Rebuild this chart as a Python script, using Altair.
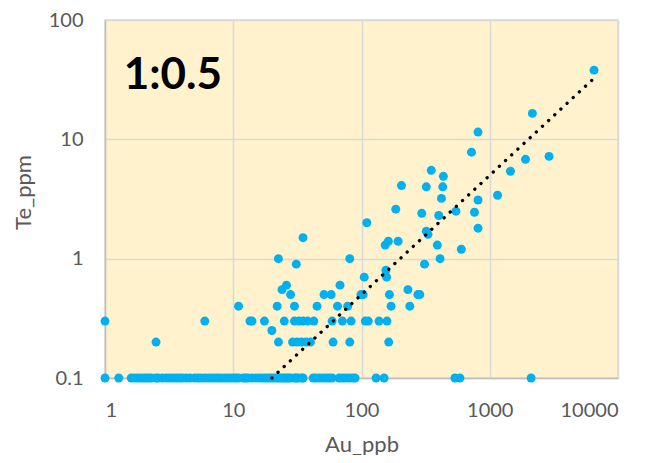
import altair as alt
import pandas as pd

# Samples with Te at the 0.1 ppm detection floor (Au ppb values)
floor_au = [1, 1.28, 1.6, 1.7, 1.8, 1.9, 2.0, 2.1, 2.2, 2.3, 2.5, 2.6, 2.8, 3.0, 3.2,
            3.4, 3.6, 3.8, 4.0, 4.3, 4.6, 5.0, 5.3, 5.6, 6.0, 6.4, 6.8, 7.2, 7.6, 8.0,
            8.5, 9.0, 9.5, 10, 10.5, 11, 12, 12.5, 13, 14, 15, 16, 17, 18, 19, 20, 21,
            22, 23, 24, 25, 26, 27, 28, 30, 31, 32, 34, 35,
            42, 44, 47, 50, 53, 56, 59, 67, 71, 75, 80, 85, 89,
            130, 150, 535, 585, 2100]
floor_te = 0.1

# Other samples
au = [1, 2.5, 6, 11, 13.5, 14, 17.5, 20, 22.5, 22.5, 22, 25, 24, 26, 28, 30, 31, 35,
      30, 32.5, 35, 38, 42.5, 59, 71, 83, 107, 113, 137, 158,
      29, 31.5, 34, 37, 40, 60, 81, 163,
      45, 65, 78, 170, 238,
      51, 58, 99, 103, 165, 275, 285,
      68, 105, 155, 157, 230, 81, 310, 410, 600, 390, 153, 162, 193, 320, 330,
      110, 185, 295, 400, 545, 760, 810, 810, 420, 430, 320, 205, 435, 350,
      720, 810, 1150, 1450, 1900, 2900, 2150, 6500]
te = [0.3, 0.2, 0.3, 0.4, 0.3, 0.3, 0.3, 0.25, 0.2, 1.0, 0.4, 0.3, 0.55, 0.6, 0.5, 0.4, 0.9, 1.5,
      0.3, 0.3, 0.3, 0.3, 0.3, 0.3, 0.3, 0.3, 0.3, 0.3, 0.3, 0.3,
      0.2, 0.2, 0.2, 0.2, 0.2, 0.2, 0.2, 0.2,
      0.4, 0.4, 0.4, 0.4, 0.4,
      0.5, 0.5, 0.5, 0.5, 0.5, 0.5, 0.5,
      0.6, 0.7, 0.8, 0.7, 0.55, 1.0, 0.9, 1.0, 1.2, 1.3, 1.3, 1.4, 1.4, 1.7, 1.6,
      2.0, 2.6, 2.4, 2.3, 2.5, 2.45, 1.8, 3.1, 3.2, 4.0, 4.0, 4.1, 4.9, 5.5,
      7.8, 11.5, 3.4, 5.4, 6.8, 7.2, 16.5, 38]

# Trend line (dotted) end points
trend_au = [20, 6300]
trend_te = [0.1, 31.5]

# Annotation
ann_au = [1.4]
ann_te = [26.5]
ann_text = ["1:0.5"]

x_ticks = [1, 10, 100, 1000, 10000]
y_ticks = [0.1, 1, 10, 100]

pts = pd.DataFrame({
    "Au_ppb": floor_au + au,
    "Te_ppm": [floor_te] * len(floor_au) + te,
})
trend = pd.DataFrame({"Au_ppb": trend_au, "Te_ppm": trend_te})
ann = pd.DataFrame({"Au_ppb": ann_au, "Te_ppm": ann_te, "t": ann_text})

FONT = "Lato"
GREY = "#595959"

W, H = 513, 358

xscale = alt.Scale(type="log", domain=[1, 10000], nice=False)
yscale = alt.Scale(type="log", domain=[0.1, 100], nice=False)

xaxis = alt.Axis(values=x_ticks, format="~g", title="Au_ppb", labelPadding=22,
                 titleX=W / 2, titleY=73, titleBaseline="alphabetic", titleAlign="center")
yaxis = alt.Axis(values=y_ticks, format="~g", title="Te_ppm", labelPadding=22,
                 titleX=-75, titleY=172, titleAngle=270, titleBaseline="alphabetic",
                 titleAlign="center")

points = alt.Chart(pts).mark_circle(size=80, color="#00B0F0", opacity=1).encode(
    x=alt.X("Au_ppb:Q", scale=xscale, axis=xaxis),
    y=alt.Y("Te_ppm:Q", scale=yscale, axis=yaxis),
)

line = alt.Chart(trend).mark_line(color="black", strokeWidth=3.3, strokeCap="round",
                                  strokeDash=[0.1, 8.3]).encode(
    x=alt.X("Au_ppb:Q", scale=xscale),
    y=alt.Y("Te_ppm:Q", scale=yscale),
)

label = alt.Chart(ann).mark_text(font=FONT, fontSize=44, fontWeight="bold", color="black",
                                 align="left", baseline="alphabetic").encode(
    x=alt.X("Au_ppb:Q", scale=xscale),
    y=alt.Y("Te_ppm:Q", scale=yscale),
    text="t:N",
)

chart = alt.layer(points, line, label).properties(
    width=W, height=H,
    autosize=alt.AutoSizeParams(type="none"),
    padding={"left": 97, "top": 12, "right": 639 - 97 - W, "bottom": 447 - 12 - H},
).configure_view(
    fill="#FFF2CC", stroke="#D9D9D9", strokeWidth=1.5,
).configure_axis(
    grid=True, gridColor="#D9D9D9", gridWidth=1.5,
    domainColor="#BFBFBF", domainWidth=1.5,
    ticks=False, tickSize=0,
    labelFont=FONT, labelFontSize=20, labelColor=GREY,
    titleFont=FONT, titleFontSize=22, titleColor=GREY, titleFontWeight="normal",
)

chart.save("out.html", embed_options={"renderer": "svg", "actions": False})
